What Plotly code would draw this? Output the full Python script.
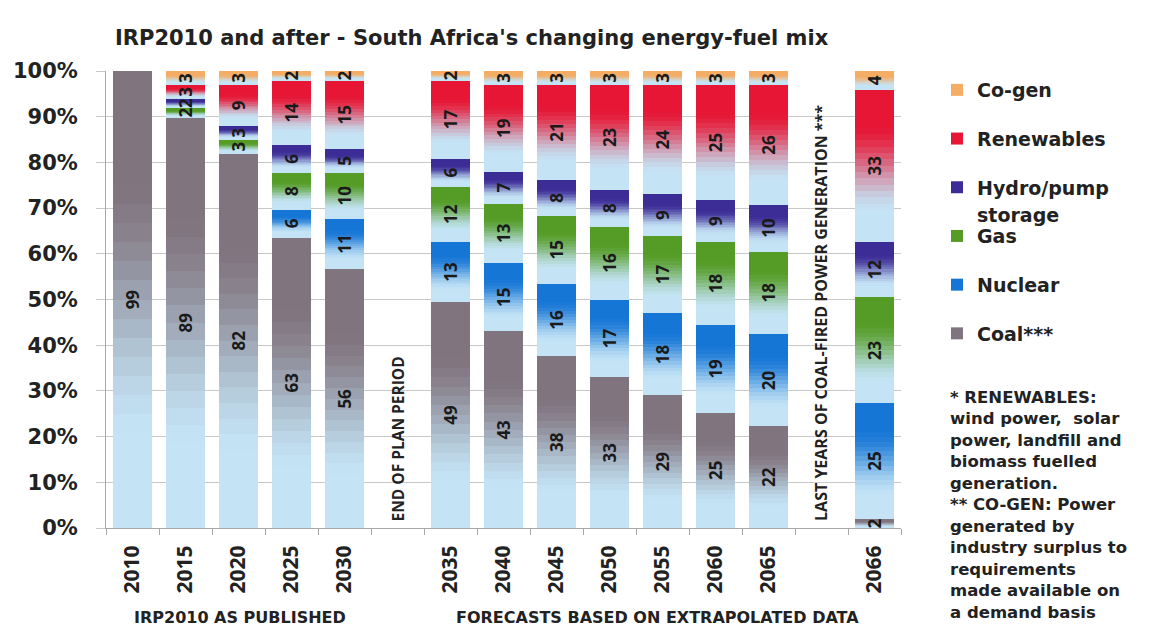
import plotly.graph_objects as go

# categories (two blank slots are the gaps in the original chart)
years = ["2010", "2015", "2020", "2025", "2030", " ",
         "2035", "2040", "2045", "2050", "2055", "2060", "2065", "  ", "2066"]

coal = [99, 89, 82, 63, 56, None, 49, 43, 38, 33, 29, 25, 22, None, 2]
nuclear = [0, 0, 0, 6, 11, None, 13, 15, 16, 17, 18, 19, 20, None, 25]
gas = [0, 2, 3, 8, 10, None, 12, 13, 15, 16, 17, 18, 18, None, 23]
hydro = [0, 2, 3, 6, 5, None, 6, 7, 8, 8, 9, 9, 10, None, 12]
renewables = [0, 3, 9, 14, 15, None, 17, 19, 21, 23, 24, 25, 26, None, 33]
cogen = [0, 3, 3, 2, 2, None, 2, 3, 3, 3, 3, 3, 3, None, 4]

fuel_names = ["Coal***", "Nuclear", "Gas", "Hydro/pump", "Renewables", "Co-gen"]
fuel_values = [coal, nuclear, gas, hydro, renewables, cogen]
fuel_colors = [(128, 116, 126), (22, 118, 214), (84, 156, 38),
               (60, 44, 150), (230, 22, 52), (245, 172, 100)]
LIGHT = (196, 228, 246)
N_SLICES = 24

H_FONT = "DejaVu Sans"
V_FONT = "Open Sans"

# the page puts the figure 8px in from the top-left corner
OFF = 8
PLOT_L, PLOT_R, PLOT_T, PLOT_B = 106, 901, 71, 528
W, H = 1154, 643


def shade(dark, t):
    # t = 0 at the top of a segment, 1 at the bottom
    s = min(max((t - 0.22) / 0.6, 0.0), 1.0)
    s = s * s * (3 - 2 * s)
    c = [round(d + (l - d) * s) for d, l in zip(dark, LIGHT)]
    return f"rgb({c[0]},{c[1]},{c[2]})"


def px_x(x):
    return (x - PLOT_L) / (PLOT_R - PLOT_L)


def px_y(y):
    return (PLOT_B - y) / (PLOT_B - PLOT_T)


fig = go.Figure()

# gradient-filled segments: each segment is drawn as thin stacked slices
for rank, (name, vals, dark) in enumerate(zip(fuel_names, fuel_values, fuel_colors)):
    for k in range(N_SLICES):
        t = 1 - (k + 0.5) / N_SLICES
        fig.add_trace(go.Bar(
            x=years,
            y=[v / N_SLICES if v is not None else None for v in vals],
            name=name,
            legendgroup=name,
            legendrank=len(fuel_names) - rank,
            showlegend=(k == N_SLICES - 1),
            marker=dict(color=shade(dark, t), line=dict(width=0)),
            hoverinfo="skip",
        ))

# value labels on an overlaid, transparent copy of the stack
for name, vals in zip(fuel_names, fuel_values):
    fig.add_trace(go.Bar(
        x=years,
        y=vals,
        xaxis="x2",
        yaxis="y2",
        showlegend=False,
        marker=dict(color="rgba(0,0,0,0)", line=dict(width=0)),
        text=[str(v) if v else "" for v in vals],
        textposition="inside",
        insidetextanchor="middle",
        textangle=-90,
        constraintext="none",
        textfont=dict(family=V_FONT, size=17, weight="bold", color="#1a1a1a"),
        hovertemplate=name + ": %{text}<extra></extra>",
    ))

axis_grey = "#a8a8a8"
fig.update_layout(
    width=W,
    height=H,
    barmode="stack",
    barnorm="percent",
    bargap=0.27,
    plot_bgcolor="white",
    paper_bgcolor="white",
    margin=dict(l=PLOT_L - OFF, r=W - (PLOT_R - OFF), t=PLOT_T - OFF,
                b=H - (PLOT_B - OFF), autoexpand=False),
    title=dict(
        text="IRP2010 and after - South Africa's changing energy-fuel mix",
        x=(115 - OFF) / W, xanchor="left", y=1 - (38 - OFF) / H, yanchor="middle",
        font=dict(family=H_FONT, size=21, weight="bold", color="#222"),
    ),
    xaxis=dict(
        type="category", categoryorder="array", categoryarray=years,
        range=[-0.5, len(years) - 0.5],
        tickangle=-90,
        tickfont=dict(family=V_FONT, size=21, weight="bold", color="#222"),
        ticks="outside", tickson="boundaries", ticklen=6, tickcolor=axis_grey,
        ticklabelstandoff=8,
        showline=True, linecolor=axis_grey, showgrid=False,
    ),
    xaxis2=dict(
        type="category", categoryorder="array", categoryarray=years,
        range=[-0.5, len(years) - 0.5], overlaying="x", visible=False,
    ),
    yaxis=dict(
        range=[0, 100], dtick=10, ticksuffix="%",
        tickfont=dict(family=H_FONT, size=21, weight="bold", color="#222"),
        gridcolor="#c8c8c8", gridwidth=1,
        showline=True, linecolor=axis_grey,
        ticks="outside", ticklen=9, tickcolor="#c8c8c8",
        ticklabelstandoff=14,
    ),
    yaxis2=dict(range=[0, 100], overlaying="y", visible=False),
    legend=dict(
        x=px_x(937), xanchor="left", y=1.0, yanchor="top",
        traceorder="grouped", tracegroupgap=21,
        font=dict(family=H_FONT, size=19, weight="bold", color="#222"),
        bgcolor="rgba(0,0,0,0)",
    ),
    showlegend=True,
)

ann_font = dict(family=V_FONT, size=15.5, weight="bold", color="#222")
fig.add_annotation(text="END OF PLAN PERIOD", x=" ", y=1, xref="x", yref="y",
                   textangle=-90, yanchor="bottom", showarrow=False, font=ann_font)
fig.add_annotation(text="LAST YEARS OF COAL-FIRED POWER GENERATION ***", x="  ", y=1,
                   xref="x", yref="y", textangle=-90, yanchor="bottom",
                   showarrow=False, font=dict(ann_font, size=16))

grp_font = dict(family=H_FONT, size=16, weight="bold", color="#222")
fig.add_annotation(text="IRP2010 AS PUBLISHED", x=px_x(240), y=px_y(617),
                   xref="paper", yref="paper", xanchor="center", yanchor="middle",
                   showarrow=False, font=grp_font)
fig.add_annotation(text="FORECASTS BASED ON EXTRAPOLATED DATA", x=px_x(657),
                   y=px_y(617), xref="paper", yref="paper", xanchor="center",
                   yanchor="middle", showarrow=False, font=grp_font)

# second line of the Hydro/pump legend entry
fig.add_annotation(text="storage", x=px_x(975), y=px_y(215),
                   xref="paper", yref="paper", xanchor="left", yanchor="middle",
                   showarrow=False,
                   font=dict(family=H_FONT, size=19, weight="bold", color="#222"))

footnote = ("* RENEWABLES:<br>wind power,  solar<br>power, landfill and<br>"
            "biomass fuelled<br>generation.<br>** CO-GEN: Power<br>generated by<br>"
            "industry surplus to<br>requirements<br>made available on<br>a demand basis")
fig.add_annotation(text=footnote, x=px_x(948), y=px_y(386),
                   xref="paper", yref="paper", xanchor="left", yanchor="top",
                   align="left", showarrow=False,
                   font=dict(family=H_FONT, size=16.5, weight="bold", color="#222"))

fig.write_html("out.html")
